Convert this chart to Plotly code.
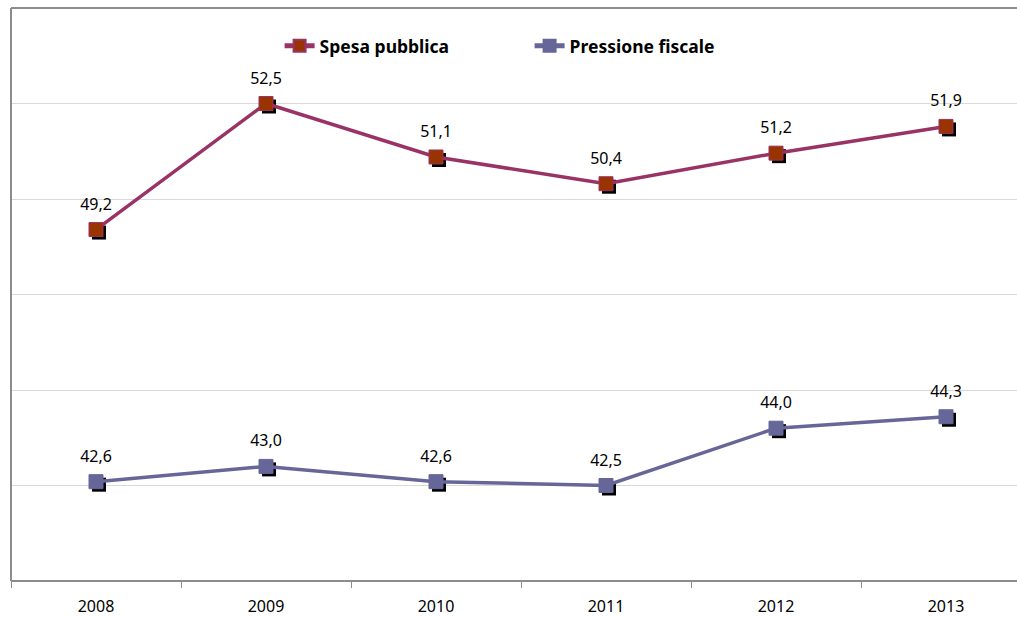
import plotly.graph_objects as go

years = ["2008", "2009", "2010", "2011", "2012", "2013"]
spesa = [49.2, 52.5, 51.1, 50.4, 51.2, 51.9]
pressione = [42.6, 43.0, 42.6, 42.5, 44.0, 44.3]

W, H = 1017, 617
ml, mt, mb, mr = 11, 8, 36, 0
plot_w = W - ml - mr
px_per_cat = 170.0
x0 = -0.5
x1 = x0 + plot_w / px_per_cat
y0, y1 = 40, 55
px_per_unit = (H - mt - mb) / (y1 - y0)
dx = 3 / px_per_cat
dy = 3 / px_per_unit

font = "Noto Sans"
axis_gray = "#8c8c8c"

fig = go.Figure()

# shadows (base axes, shifted ranges)
for vals in (spesa, pressione):
    fig.add_trace(go.Scatter(
        x=years, y=vals, mode="markers",
        marker=dict(symbol="square", size=14, color="black", line=dict(width=0)),
        showlegend=False, hoverinfo="skip", xaxis="x", yaxis="y"))

fig.add_trace(go.Scatter(
    x=years, y=spesa, mode="lines+markers", name="Spesa pubblica",
    line=dict(color="#993366", width=3.5),
    marker=dict(symbol="square", size=14, color="#993300", line=dict(color="#993366", width=1)),
    xaxis="x2", yaxis="y2"))
fig.add_trace(go.Scatter(
    x=years, y=pressione, mode="lines+markers", name="Pressione fiscale",
    line=dict(color="#666699", width=3.5),
    marker=dict(symbol="square", size=14, color="#666699", line=dict(color="#666699", width=1)),
    xaxis="x2", yaxis="y2"))

# data labels
for vals in (spesa, pressione):
    fig.add_trace(go.Scatter(
        x=years, y=vals, mode="markers+text",
        marker=dict(size=24, opacity=0),
        texttemplate="%{y:.1f}", textposition="top center",
        textfont=dict(family=font, size=16, color="black"),
        showlegend=False, hoverinfo="skip", xaxis="x2", yaxis="y2"))

frame = dict(color=axis_gray, width=2)
fig.update_layout(
    template="none",
    width=W, height=H,
    margin=dict(l=ml, r=mr, t=mt, b=mb, pad=0),
    paper_bgcolor="white", plot_bgcolor="white",
    separators=",.",
    font=dict(family=font, size=16, color="black"),
    hovermode=False,
    shapes=[
        dict(type="line", xref="paper", yref="paper", x0=0, x1=1, y0=1, y1=1, line=frame),
        dict(type="line", xref="paper", yref="paper", x0=0, x1=1, y0=0, y1=0, line=frame),
        dict(type="line", xref="paper", yref="paper", x0=0, x1=0, y0=0, y1=1, line=frame),
    ],
    xaxis=dict(type="category", range=[x0 - dx, x1 - dx], showgrid=False, automargin=False,
               showline=False, showticklabels=False, ticks="", zeroline=False),
    yaxis=dict(range=[y0 + dy, y1 + dy], showgrid=False, showline=False, automargin=False,
               showticklabels=False, ticks="", zeroline=False),
    xaxis2=dict(type="category", overlaying="x", side="bottom", anchor="y2",
                range=[x0, x1], tickson="boundaries", ticks="outside", ticklen=6,
                tickcolor=axis_gray, tickwidth=1, showgrid=False, automargin=False,
                showline=False, zeroline=False,
                ticklabelstandoff=14,
                tickfont=dict(family=font, size=16, color="black")),
    yaxis2=dict(overlaying="y", side="left", anchor="x2", range=[y0, y1], dtick=2.5,
                showgrid=True, gridcolor="#d9d9d9", gridwidth=1, automargin=False,
                showline=False, showticklabels=False, ticks="", zeroline=False),
    legend=dict(orientation="h", x=0.267, y=0.934, xanchor="left", yanchor="middle",
                font=dict(family=font, size=17.5, color="black", weight="bold"),
                bgcolor="rgba(0,0,0,0)", borderwidth=0, entrywidth=205, itemsizing="constant"),
)

fig.write_html("out.html")
